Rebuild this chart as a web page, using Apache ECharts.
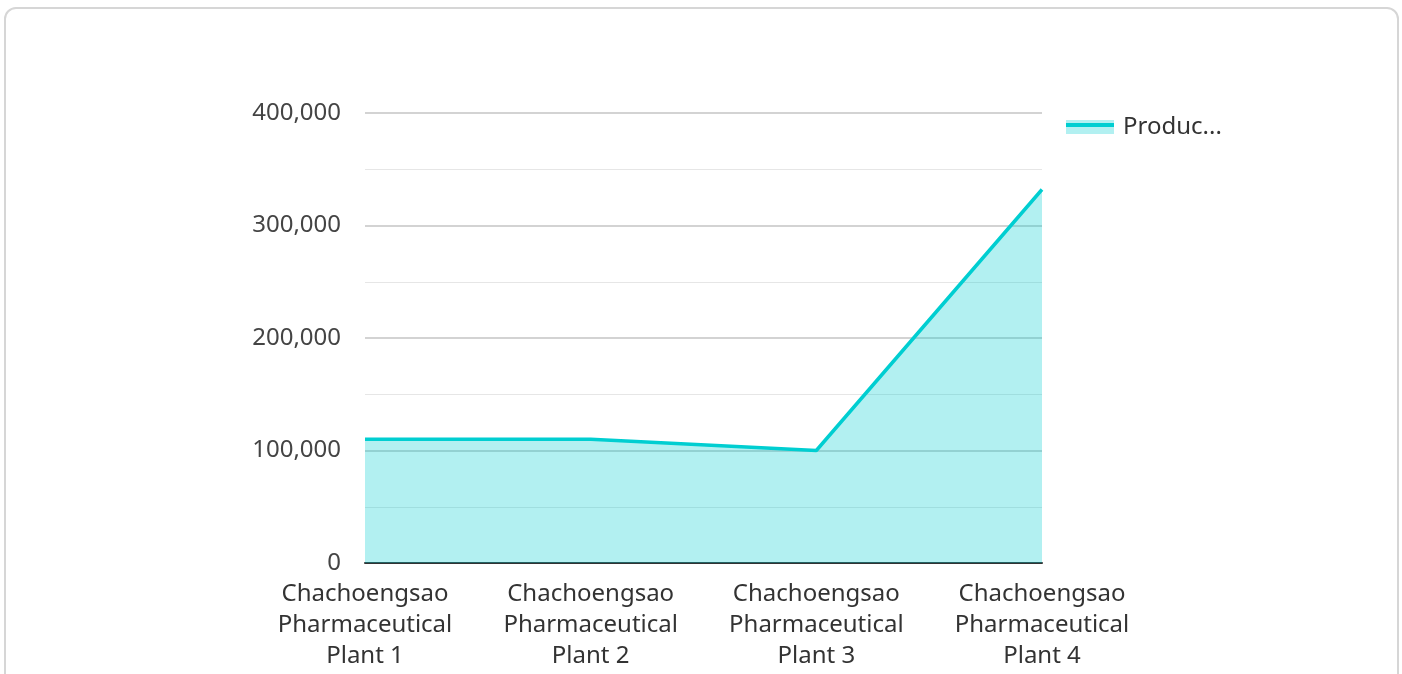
<!DOCTYPE html>
<html>
<head>
<meta charset="utf-8">
<script src="https://cdn.jsdelivr.net/npm/echarts@6/dist/echarts.min.js"></script>
<style>
  html, body { margin: 0; padding: 0; background: #fff; overflow: hidden; }
  #card { position: absolute; left: 4px; top: 7px; width: 1395px; height: 720px;
          border: 2px solid #d6d6d6; border-radius: 12px; box-sizing: border-box; background: #fff; }
  #chart { position: absolute; left: 0; top: 0; width: 1402px; height: 674px; }
</style>
</head>
<body>
<div id="card"></div>
<div id="chart"></div>
<script>
const categories = [
  'Chachoengsao\nPharmaceutical\nPlant 1',
  'Chachoengsao\nPharmaceutical\nPlant 2',
  'Chachoengsao\nPharmaceutical\nPlant 3',
  'Chachoengsao\nPharmaceutical\nPlant 4'
];
const seriesName = 'Production Volume';
const productionValues = [110000, 110000, 100000, 332000];

const FONT = '"Noto Sans", "Open Sans", sans-serif';
const LINE = '#00CED1';
const chart = echarts.init(document.getElementById('chart'));
chart.setOption({
  animation: false,
  grid: { left: 365, right: 360, top: 113, bottom: 111, containLabel: false },
  legend: {
    left: 1066, top: 115, padding: 0,
    itemWidth: 48, itemHeight: 14, itemGap: 10,
    icon: 'rect',
    itemStyle: { color: 'rgba(0,206,209,0.3)', borderWidth: 0 },
    textStyle: { fontFamily: FONT, fontSize: 24, color: '#333', width: 102, overflow: 'truncate', ellipsis: '...',
      padding: [0, 0, 8, 4] },
    data: [seriesName]
  },
  graphic: [{
    type: 'rect', left: 1066, top: 123, silent: true, z: 100,
    shape: { width: 48, height: 4 }, style: { fill: LINE }
  }],
  xAxis: {
    type: 'category', boundaryGap: false, data: categories,
    axisLine: { show: true, lineStyle: { color: '#333', width: 2 } },
    axisTick: { show: false },
    axisLabel: { fontFamily: FONT, fontSize: 24, color: '#333', lineHeight: 31, margin: 16, interval: 0 },
    splitLine: { show: false }
  },
  yAxis: {
    type: 'value', min: 0, max: 400000, interval: 100000,
    axisLine: { show: false }, axisTick: { show: false },
    axisLabel: { fontFamily: FONT, fontSize: 24, color: '#444', margin: 24, padding: [4, 0, 0, 0],
      formatter: v => v.toLocaleString('en-US') },
    splitLine: { show: true, lineStyle: { color: '#c4c4c4', width: 1.6 } },
    minorTick: { show: false, splitNumber: 2 },
    minorSplitLine: { show: true, lineStyle: { color: '#e6e6e6', width: 1.2 } }
  },
  series: [{
    name: seriesName, type: 'line', data: productionValues,
    symbol: 'none', showSymbol: false,
    lineStyle: { color: LINE, width: 3.5 },
    itemStyle: { color: LINE },
    areaStyle: { color: 'rgba(0,206,209,0.3)', opacity: 1 }
  }]
});
</script>
</body>
</html>
